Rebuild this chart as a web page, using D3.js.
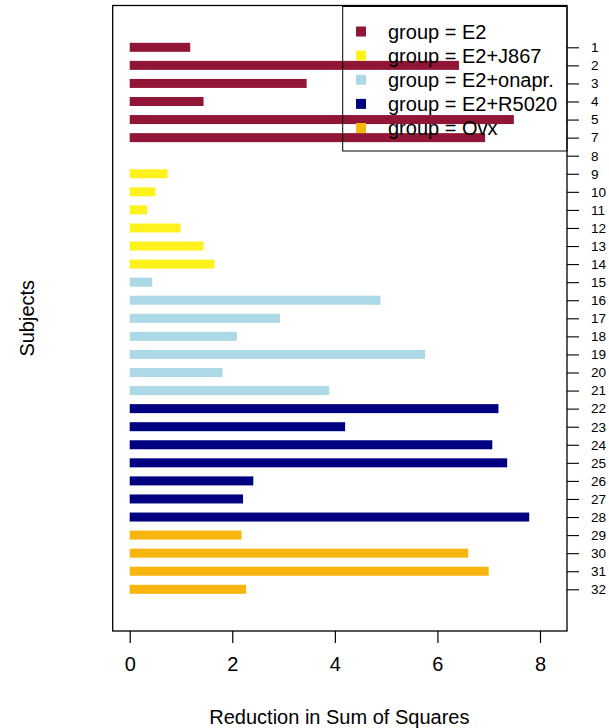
<!DOCTYPE html>
<html>
<head>
<meta charset="utf-8">
<script src="https://cdn.jsdelivr.net/npm/d3@7/dist/d3.min.js"></script>
<style>
  html, body { margin: 0; padding: 0; background: #fff; }
  svg { display: block; font-family: "Liberation Sans", Arial, Helvetica, sans-serif; }
</style>
</head>
<body>
<svg id="chart" width="609" height="728"></svg>
<script>
// Subject labels down the right axis (no subject 6)
const subjects = ["1","2","3","4","5","7","8","9","10","11","12","13","14","15","16",
  "17","18","19","20","21","22","23","24","25","26","27","28","29","30","31","32"];
// Reduction in sum of squares per subject (null = no bar)
const values = [1.18, 6.42, 3.45, 1.44, 7.49, 6.93, null,
  0.74, 0.50, 0.34, 0.99, 1.44, 1.65,
  0.44, 4.89, 2.93, 2.09, 5.76, 1.81, 3.89,
  7.19, 4.20, 7.07, 7.36, 2.41, 2.21, 7.79,
  2.18, 6.60, 7.00, 2.27];
// Treatment group of each subject
const groups = ["E2","E2","E2","E2","E2","E2","E2",
  "E2+J867","E2+J867","E2+J867","E2+J867","E2+J867","E2+J867",
  "E2+onapr.","E2+onapr.","E2+onapr.","E2+onapr.","E2+onapr.","E2+onapr.","E2+onapr.",
  "E2+R5020","E2+R5020","E2+R5020","E2+R5020","E2+R5020","E2+R5020","E2+R5020",
  "Ovx","Ovx","Ovx","Ovx"];
const groupNames = ["E2","E2+J867","E2+onapr.","E2+R5020","Ovx"];
const groupColors = ["#911537","#FFF11C","#ADD8E6","#000080","#F8B50E"];
const xTicks = [0, 2, 4, 6, 8];

const svg = d3.select("#chart");
const box = { left: 112.7, right: 567, top: 5.5, bottom: 631 };
const baseFont = 20;

const x = d3.scaleLinear().domain([0, 8]).range([129.7, 540]);
const y = d3.scalePoint().domain(subjects).range([47.3, 589.3]);
const color = d3.scaleOrdinal().domain(groupNames).range(groupColors);

const rows = subjects.map((s, i) => ({ s, v: values[i], g: groups[i] }))
  .filter(d => d.v !== null);

// Bars
const barH = 9;
svg.append("g").selectAll("rect").data(rows).join("rect")
  .attr("x", x(0))
  .attr("y", d => y(d.s) - barH / 2)
  .attr("width", d => x(d.v) - x(0))
  .attr("height", barH)
  .attr("fill", d => color(d.g));

// Legend (top right, drawn over the bars)
const lg = svg.append("g");
const lgTop = box.top + 1, lgBottom = 151, lgLeft = 342.7;
lg.append("rect")
  .attr("x", lgLeft).attr("y", lgTop)
  .attr("width", box.right - lgLeft).attr("height", lgBottom - lgTop)
  .attr("fill", "none").attr("stroke", "#000").attr("stroke-width", 1);
const lgY = d3.scalePoint().domain(groupNames).range([31.5, 128]);
const items = lg.selectAll("g.item").data(groupNames).join("g").attr("class", "item");
items.append("rect")
  .attr("x", 356).attr("y", d => lgY(d) - 5)
  .attr("width", 10).attr("height", 10)
  .attr("fill", d => color(d));
items.append("text")
  .attr("x", 388).attr("y", d => lgY(d))
  .attr("dy", "0.35em")
  .attr("font-size", baseFont)
  .text(d => "group = " + d);

// Plot frame
svg.append("rect")
  .attr("x", box.left).attr("y", box.top)
  .attr("width", box.right - box.left).attr("height", box.bottom - box.top)
  .attr("fill", "none").attr("stroke", "#000").attr("stroke-width", 1.3);

// Bottom axis
const xAxis = svg.append("g")
  .attr("transform", `translate(0,${box.bottom})`)
  .call(d3.axisBottom(x).tickValues(xTicks).tickFormat(d3.format("d"))
    .tickSize(12).tickPadding(14));
xAxis.select(".domain").remove();
xAxis.selectAll("line").attr("stroke", "#000").attr("stroke-width", 1.2);
xAxis.selectAll("text").attr("font-size", baseFont).attr("fill", "#000")
  .attr("font-family", "Liberation Sans, Arial, sans-serif");

// Right axis with subject labels
const yAxis = svg.append("g")
  .attr("transform", `translate(${box.right},0)`)
  .call(d3.axisRight(y).tickSize(12).tickPadding(12));
yAxis.select(".domain").remove();
yAxis.selectAll("line").attr("stroke", "#000").attr("stroke-width", 1.1);
yAxis.selectAll("text").attr("font-size", 13.6).attr("fill", "#000")
  .attr("font-family", "Liberation Sans, Arial, sans-serif");

// Axis titles
svg.append("text")
  .attr("x", (box.left + box.right) / 2 - 0.5).attr("y", 717)
  .attr("dy", "0.35em").attr("text-anchor", "middle")
  .attr("font-size", baseFont)
  .text("Reduction in Sum of Squares");
svg.append("text")
  .attr("transform", `translate(27,${(box.top + box.bottom) / 2}) rotate(-90)`)
  .attr("dy", "0.35em").attr("text-anchor", "middle")
  .attr("font-size", baseFont)
  .text("Subjects");
</script>
</body>
</html>
